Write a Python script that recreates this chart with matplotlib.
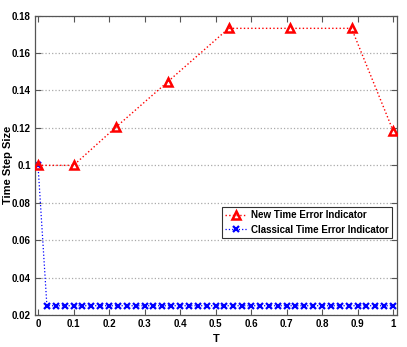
import matplotlib
matplotlib.use("Agg")
import matplotlib.pyplot as plt
import numpy as np

plt.rcParams['font.family'] = ['Liberation Sans', 'DejaVu Sans']

t_new = [0.0, 0.1, 0.22, 0.365, 0.537, 0.709, 0.883, 1.0]
h_new = [0.1, 0.1, 0.1205, 0.1446, 0.1732, 0.1732, 0.1732, 0.1185]

t_cls = [0.0] + [0.025 * k for k in range(1, 41)]
h_cls = [0.1] + [0.025] * 40

xticks = [0, 0.1, 0.2, 0.3, 0.4, 0.5, 0.6, 0.7, 0.8, 0.9, 1]
xticklabels = ['0', '0.1', '0.2', '0.3', '0.4', '0.5', '0.6', '0.7', '0.8', '0.9', '1']
yticks = [0.02, 0.04, 0.06, 0.08, 0.1, 0.12, 0.14, 0.16, 0.18]
yticklabels = ['0.02', '0.04', '0.06', '0.08', '0.1', '0.12', '0.14', '0.16', '0.18']

fig = plt.figure(figsize=(4.07, 3.47), dpi=100)
ax = fig.add_axes([0.086, 0.092, 0.889, 0.863])

ax.plot(t_new, h_new, color='red', linestyle=':', linewidth=1.0, marker='^',
        markersize=6, markerfacecolor='none', markeredgecolor='red',
        markeredgewidth=1.8, label='New Time Error Indicator', zorder=3)
ax.plot(t_cls, h_cls, color='blue', linestyle=':', linewidth=0.9, marker='x',
        markersize=4.2, markeredgewidth=1.6, markeredgecolor='blue',
        label='Classical Time Error Indicator', zorder=2)

ax.set_xlim(-0.0085, 1.0105)
ax.set_ylim(0.02, 0.18)
ax.set_xticks(xticks)
ax.set_xticklabels(xticklabels)
ax.set_yticks(yticks)
ax.set_yticklabels(yticklabels)
ax.yaxis.grid(True, linestyle=':', color='#aaaaaa', linewidth=0.9)
ax.tick_params(direction='in', top=True, right=True, length=4, width=0.8,
               labelsize=7, colors='#555555', labelcolor='black', pad=3)
for lbl in ax.get_xticklabels() + ax.get_yticklabels():
    lbl.set_fontweight('bold')
for s in ax.spines.values():
    s.set_color('#555555')
    s.set_linewidth(0.9)

ax.set_xlabel('T', fontsize=8, fontweight='bold')
ax.xaxis.set_label_coords(0.5, -0.062)
ax.set_ylabel('Time Step Size', fontsize=8, fontweight='bold')
ax.yaxis.set_label_coords(-0.062, 0.5)

leg = ax.legend(loc='upper left', bbox_to_anchor=(0.517, 0.361),
                prop={'weight': 'bold', 'size': 7}, frameon=True, fancybox=False,
                edgecolor='black', handlelength=2.2, borderpad=0.35,
                labelspacing=0.45, handletextpad=0.4, borderaxespad=0)
leg.get_frame().set_linewidth(0.8)

fig.savefig('out.png', dpi=100)
